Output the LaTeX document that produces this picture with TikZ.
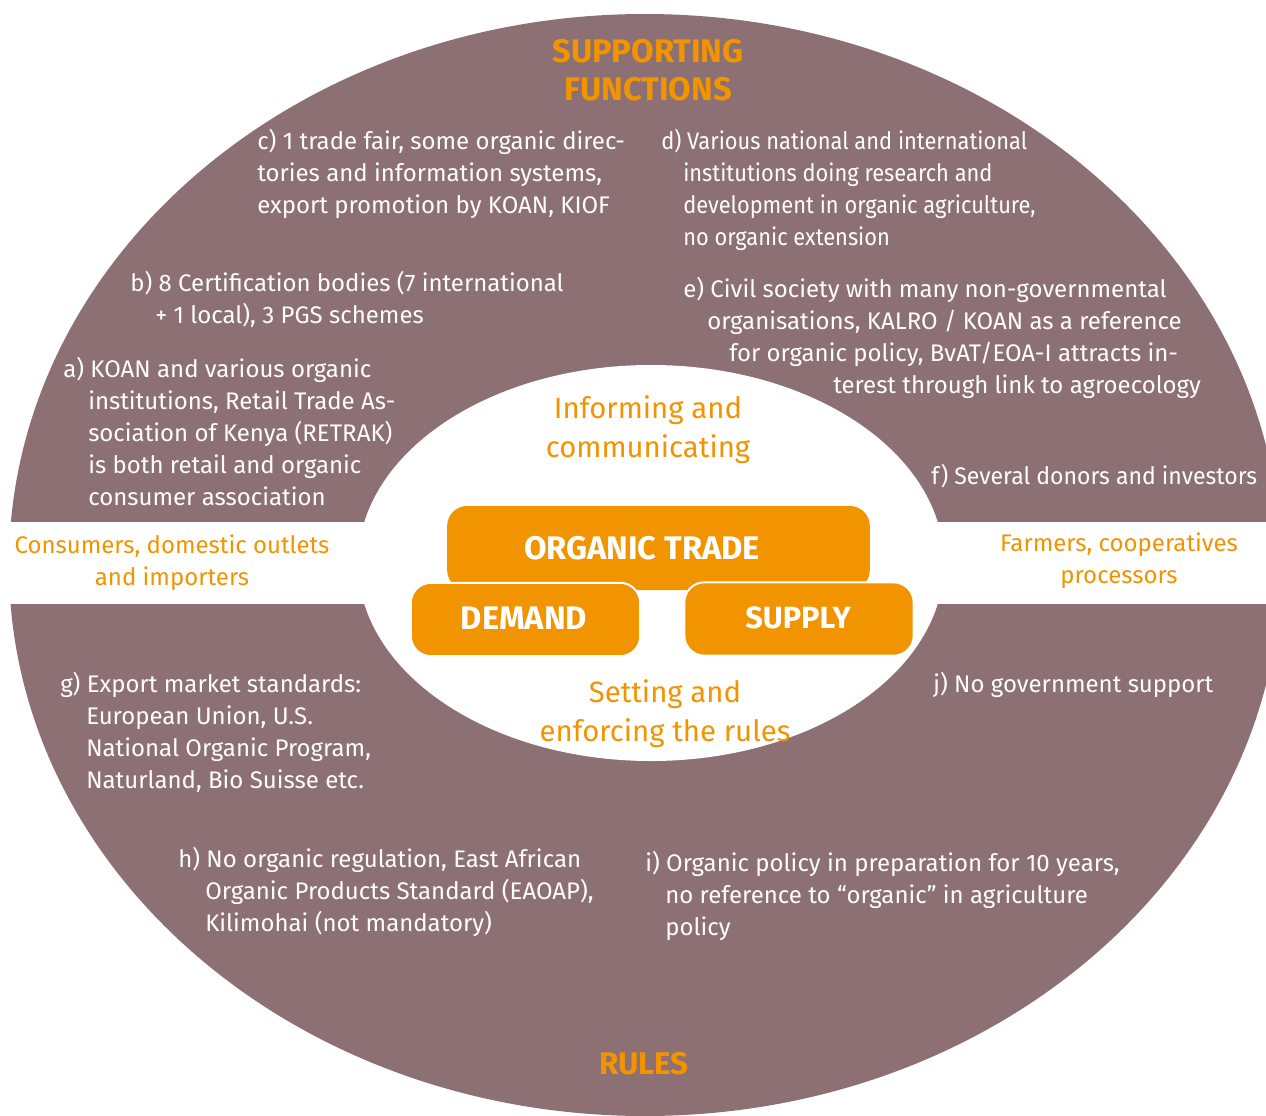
\documentclass[tikz,border=0pt]{standalone}
\usepackage{fontspec}
\setmainfont{Fira Sans}
\usetikzlibrary{positioning}
\definecolor{ringbrown}{RGB}{140,112,115}
\definecolor{orgorange}{RGB}{242,148,0}
\tikzset{
  note/.style={anchor=north west, inner sep=0pt, align=left, text=white, font=\fontsize{18}{24}\selectfont},
  sidelabel/.style={inner sep=0pt, align=center, text=orgorange, font=\fontsize{18}{24}\selectfont},
  innerlabel/.style={inner sep=0pt, align=center, text=orgorange, font=\fontsize{22}{29}\selectfont},
  headlabel/.style={inner sep=0pt, align=center, text=orgorange, font=\bfseries\fontsize{23.5}{28.5}\selectfont},
  tradebox/.style={fill=orgorange, rounded corners=15pt, inner sep=0pt},
  boxtext/.style={inner sep=0pt, text=white, font=\bfseries\fontsize{24.5}{26}\selectfont}
}

\begin{document}
\begin{tikzpicture}[x=0.75pt,y=0.75pt,yscale=-1,xscale=1]
\useasboundingbox (0,0) rectangle (1266,1116);

%Shape: outer ring
\fill [ringbrown] (645,565) ellipse [x radius=636, y radius=551];
%Shape: white band
\fill [white] (0,522) rectangle (1266,604);
%Shape: inner ellipse
\fill [white] (651,563) ellipse [x radius=293, y radius=198];

% Boxes
\node (trade) [tradebox, minimum width=317pt, minimum height=63pt] at (658.5,548) {};
\node (tradetxt) [boxtext] at (642,548) {ORGANIC TRADE};
\node (demand) [tradebox, draw=white, line width=1.5pt, minimum width=172pt, minimum height=55pt] at (525.5,619.5) {};
\node (demandtxt) [boxtext] at (524,618) {DEMAND};
\node (supply) [tradebox, draw=white, line width=1.5pt, minimum width=172pt, minimum height=55pt] at (799,619) {};
\node (supplytxt) [boxtext, font=\bfseries\fontsize{23}{26}\selectfont] at (798,618) {SUPPLY};

% Orange labels
\node (support) [headlabel, font=\bfseries\fontsize{24.5}{28.5}\selectfont] at (648,70) {SUPPORTING\\FUNCTIONS};
\node (rules) [headlabel] at (644,1064) {RULES};
\node (inform) [innerlabel] at (648,430) {Informing and\\communicating};
\node (setting) [innerlabel] at (665,714) {Setting and\\enforcing the rules};
\node (consumers) [sidelabel] at (172,563) {Consumers, domestic outlets\\and importers};
\node (farmers) [sidelabel] at (1119,561) {Farmers, cooperatives\\processors};

% Text Node
\node (notec) [note] at (257,129) {c) 1 trade fair, some organic direc-\\tories and information systems,\\export promotion by KOAN, KIOF};
% Text Node
\node (noted) [note, font=\fontsize{18}{24}\selectfont\addfontfeatures{FakeStretch=0.91}] at (661,129) {d) Various national and international\\\hspace*{16.5pt}institutions doing research and\\\hspace*{16.5pt}development in organic agriculture,\\\hspace*{16.5pt}no organic extension};
% Text Node
\node (noteb) [note] at (130,271) {b) 8 Certification bodies (7 international\\\hspace*{18.75pt}+ 1 local), 3 PGS schemes};
% Text Node
\node (notee) [note] at (683,277) {e) Civil society with many non-governmental\\\hspace*{18pt}organisations, KALRO / KOAN as a reference\\\hspace*{34.5pt}for organic policy, BvAT/EOA-I attracts in-\\\hspace*{112.5pt}terest through link to agroecology};
% Text Node
\node (notea) [note] at (63,357) {a) KOAN and various organic\\\hspace*{18.75pt}institutions, Retail Trade As-\\\hspace*{18.75pt}sociation of Kenya (RETRAK)\\\hspace*{18.75pt}is both retail and organic\\\hspace*{18.75pt}consumer association};
% Text Node
\node (notef) [note, font=\fontsize{18}{24}\selectfont\addfontfeatures{FakeStretch=0.96}] at (931,464) {f) Several donors and investors};
% Text Node
\node (notej) [note] at (933,672) {j) No government support};
% Text Node
\node (noteg) [note] at (60,672) {g) Export market standards:\\\hspace*{19.5pt}European Union, U.S.\\\hspace*{19.5pt}National Organic Program,\\\hspace*{19.5pt}Naturland, Bio Suisse etc.};
% Text Node
\node (noteh) [note] at (178,847) {h) No organic regulation, East African\\\hspace*{20.25pt}Organic Products Standard (EAOAP),\\\hspace*{20.25pt}Kilimohai (not mandatory)};
% Text Node
\node (notei) [note] at (645,851) {i) Organic policy in preparation for 10 years,\\\hspace*{15pt}no reference to “organic” in agriculture\\\hspace*{15pt}policy};

\end{tikzpicture}
\end{document}
